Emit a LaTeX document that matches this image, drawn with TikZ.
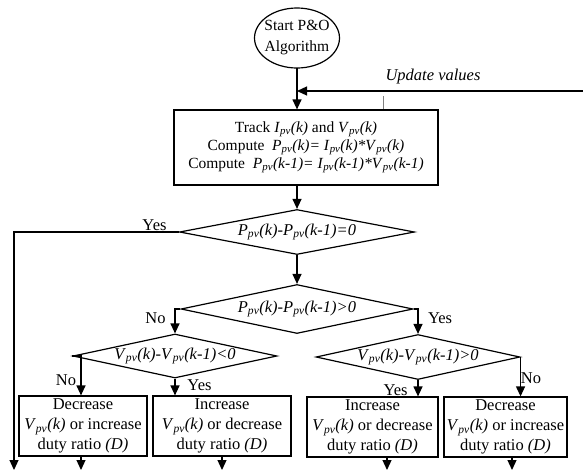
\documentclass[tikz,border=0pt]{standalone}
\usepackage{fontspec}
\setmainfont{Liberation Serif}
\usetikzlibrary{arrows.meta,shapes.geometric}
% italic quantity with a "pv" subscript
\newcommand\pvq[1]{\textit{#1}\textsubscript{\textit{pv}}}
\tikzset{
  every node/.style={font=\fontsize{16.5}{20}\selectfont},
  conn/.style={line width=1.2pt},
  arr/.style={conn,-{Triangle[length=10pt,width=9pt]}},
  startshape/.style={rectangle,inner sep=0pt,minimum width=85pt,minimum height=60pt,align=center,
                     font=\fontsize{15.5}{21}\selectfont},
  procbox/.style={rectangle,draw,line width=1.2pt,inner sep=0pt,align=center},
  decision/.style={diamond,draw,line width=1.2pt,inner sep=0pt,shape aspect=5},
  actbox/.style={rectangle,draw,line width=1.2pt,inner sep=0pt,minimum height=60pt,align=center,
                 font=\fontsize{16.5}{20}\selectfont},
  lbl/.style={inner sep=0pt},
}
\begin{document}
\begin{tikzpicture}[x=1pt,y=-1pt]
\useasboundingbox (0,0) rectangle (583,472);

% start of the algorithm (oval drawn round the text box)
\node[startshape] (start) at (297,38) {Start P\&O\\Algorithm};
\draw[line width=1.2pt] (start.center) ellipse [x radius=42.5pt, y radius=30pt];

% measurement / power computation block
\node[procbox,minimum width=264pt,minimum height=75pt,
      font=\fontsize{15.5}{18}\selectfont] (proc) at (306,147.5)
  {Track \pvq{I}\textit{(k)} and \pvq{V}\textit{(k)}\\
   Compute \ \pvq{P}\textit{(k)= }\pvq{I}\textit{(k)*}\pvq{V}\textit{(k)}\\
   Compute \ \pvq{P}\textit{(k-1)= }\pvq{I}\textit{(k-1)*}\pvq{V}\textit{(k-1)}};

% decisions
\node[decision,minimum width=235pt,minimum height=45pt] (d1) at (297,232)
  {\pvq{P}\textit{(k)-}\pvq{P}\textit{(k-1)=0}};
\node[decision,minimum width=232pt,minimum height=49pt] (d2) at (297,309)
  {\pvq{P}\textit{(k)-}\pvq{P}\textit{(k-1)>0}};
\node[decision,minimum width=186pt,minimum height=44pt] (d3) at (175,356)
  {\pvq{V}\textit{(k)-}\pvq{V}\textit{(k-1)<0}};
\node[decision,minimum width=190pt,minimum height=45pt] (d4) at (418,357)
  {\pvq{V}\textit{(k)-}\pvq{V}\textit{(k-1)>0}};

% duty ratio actions
\node[actbox,minimum width=128pt] (b1) at (83,426)
  {Decrease\\\pvq{V}\textit{(k)} or increase\\duty ratio \textit{(D)}};
\node[actbox,minimum width=138pt] (b2) at (222,426)
  {Increase\\\pvq{V}\textit{(k)} or decrease\\duty ratio \textit{(D)}};
\node[actbox,minimum width=131pt] (b3) at (372.5,427)
  {Increase\\\pvq{V}\textit{(k)} or decrease\\duty ratio \textit{(D)}};
\node[actbox,minimum width=123pt] (b4) at (505.5,427)
  {Decrease\\\pvq{V}\textit{(k)} or increase\\duty ratio \textit{(D)}};

% free ends of connectors
\coordinate (updin) at (583,91);
\coordinate (join) at (297,91);
\coordinate (tickt) at (383,96);
\coordinate (yesout) at (14,470);
\coordinate (e1) at (81,470);
\coordinate (e2) at (222,470);
\coordinate (e3) at (387,470);
\coordinate (e4) at (512,470);
\coordinate (c3) at (81,0);

% main flow
\draw[arr] (start.south) -- (start.south |- proc.north);
\draw[arr] (updin) -- (join);
\draw[gray,line width=0.4pt] (tickt) -- (tickt |- proc.north);
\node[lbl,font=\fontsize{16.5}{20}\selectfont\itshape] (upd) at (433,77) {Update values};
\draw[arr] (d1.north |- proc.south) -- (d1.north);
\draw[arr] (d1.west) -| (yesout);
\draw[arr] (d1.south) -- (d2.north);
\draw[arr] (d2.west) -| (d3.north);
\draw[arr] (d2.east) -| (d4.north);
\draw[arr] (d3.west) -| (c3 |- b1.north);
\draw[arr] (d3.south) -- (d3.south |- b2.north);
\draw[arr] (d4.south) -- (d4.south |- b3.north);
\draw[arr] (d4.east) -- (d4.east |- b4.north);
\draw[arr] (e1 |- b1.south) -- (e1);
\draw[arr] (e2 |- b2.south) -- (e2);
\draw[arr] (e3 |- b3.south) -- (e3);
\draw[arr] (e4 |- b4.south) -- (e4);

% branch labels
\node[lbl] (y1) at (154.5,225) {Yes};
\node[lbl] (n2) at (155.5,318) {No};
\node[lbl] (y2) at (440,318) {Yes};
\node[lbl] (n3) at (66,380) {No};
\node[lbl] (y3) at (199.5,385) {Yes};
\node[lbl] (y4) at (395.5,390) {Yes};
\node[lbl] (n4) at (531,378) {No};
\end{tikzpicture}
\end{document}
